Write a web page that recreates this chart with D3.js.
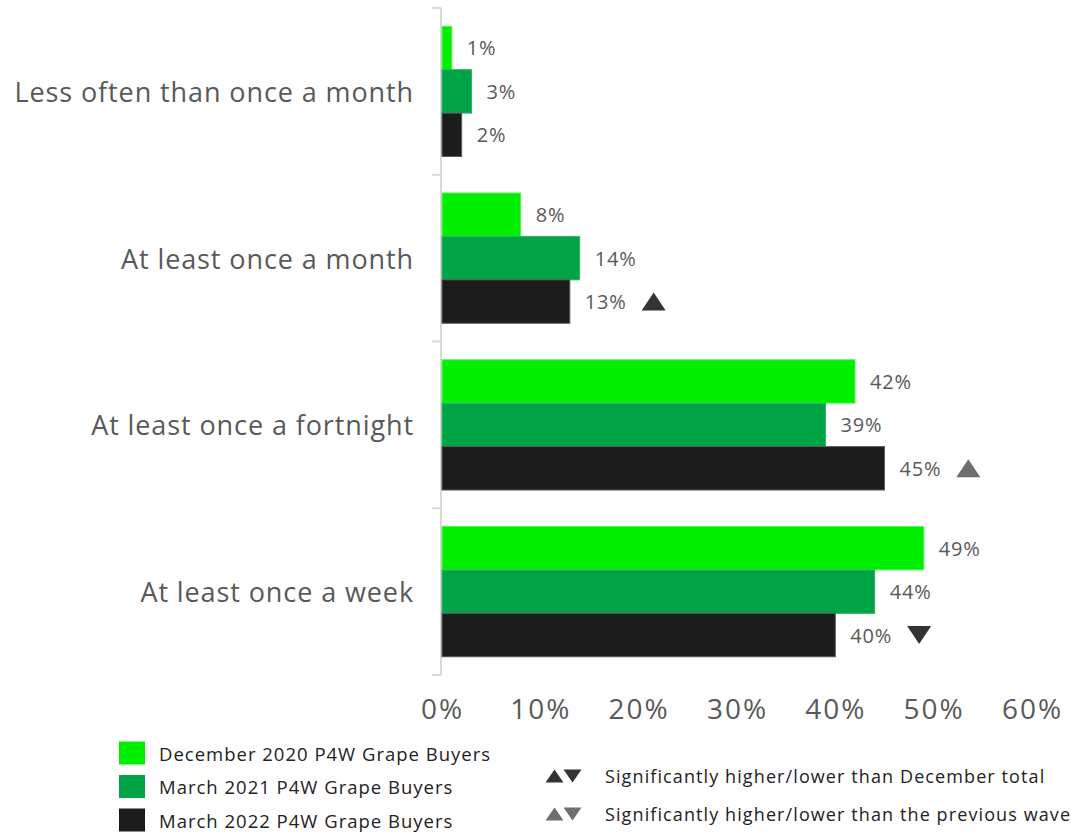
<!DOCTYPE html>
<html>
<head>
<meta charset="utf-8">
<script src="https://cdn.jsdelivr.net/npm/d3@7"></script>
<style>
  html, body { margin: 0; padding: 0; background: #fff; }
  svg text { font-family: "Open Sans", "Noto Sans", sans-serif; }
</style>
</head>
<body>
<svg id="chart" width="1071" height="832"></svg>
<script>
// Purchase frequency by wave (% of P4W grape buyers)
const categories = [
  "Less often than once a month",
  "At least once a month",
  "At least once a fortnight",
  "At least once a week"
];
const seriesNames = [
  "December 2020 P4W Grape Buyers",
  "March 2021 P4W Grape Buyers",
  "March 2022 P4W Grape Buyers"
];
const dec2020 = [1, 8, 42, 49];
const mar2021 = [3, 14, 39, 44];
const mar2022 = [2, 13, 45, 40];
// significance flags for the latest wave: direction + comparison base
const mar2022Sig = [null, "up-total", "up-wave", "down-total"];
const xTicks = [0, 10, 20, 30, 40, 50, 60];
const sigLegend = [
  { base: "total", text: "Significantly higher/lower than December total" },
  { base: "wave", text: "Significantly higher/lower than the previous wave" }
];

const seriesValues = [dec2020, mar2021, mar2022];
const colors = ["#00ee00", "#00a346", "#1c1c1c"];
const strokes = ["#5cf55c", "#2fb566", "#5a5a5a"];
const sigColors = { total: "#333333", wave: "#6e6e6e" };

const svg = d3.select("#chart");

const x = d3.scaleLinear().domain([0, 60]).range([442, 1032]);
const y = d3.scaleBand().domain(categories).range([8, 675]);
const yInner = d3.scaleBand().domain(seriesNames)
  .range([0, y.bandwidth()]).paddingOuter(0.42).paddingInner(0);

// vertical category axis with outward ticks at band edges
const axisG = svg.append("g");
axisG.append("line")
  .attr("x1", 441).attr("x2", 441)
  .attr("y1", y.range()[0]).attr("y2", y.range()[1])
  .attr("stroke", "#d9d9d9").attr("stroke-width", 2);
const edges = categories.map(c => y(c)).concat([y.range()[1]]);
axisG.selectAll("line.tick").data(edges).join("line")
  .attr("class", "tick")
  .attr("x1", 432).attr("x2", 441)
  .attr("y1", d => d).attr("y2", d => d)
  .attr("stroke", "#d9d9d9").attr("stroke-width", 2);

// category labels
svg.append("g").selectAll("text").data(categories).join("text")
  .attr("x", 414)
  .attr("y", d => y(d) + y.bandwidth() / 2)
  .attr("text-anchor", "end")
  .attr("dominant-baseline", "central")
  .attr("font-size", 27)
  .attr("letter-spacing", 0.9)
  .attr("fill", "#595959")
  .text(d => d);

// bars + value labels
const rows = [];
categories.forEach((c, i) => {
  seriesNames.forEach((s, j) => {
    rows.push({ cat: c, series: s, j, value: seriesValues[j][i],
      sig: j === 2 ? mar2022Sig[i] : null });
  });
});

const barG = svg.append("g");
barG.selectAll("rect").data(rows).join("rect")
  .attr("x", x(0))
  .attr("y", d => y(d.cat) + yInner(d.series))
  .attr("width", d => x(d.value) - x(0))
  .attr("height", yInner.bandwidth())
  .attr("fill", d => colors[d.j])
  .attr("stroke", d => strokes[d.j])
  .attr("stroke-width", 1);

const labels = barG.selectAll("text").data(rows).join("text")
  .attr("x", d => x(d.value) + 15)
  .attr("y", d => y(d.cat) + yInner(d.series) + yInner.bandwidth() / 2)
  .attr("dominant-baseline", "central")
  .attr("font-size", 20)
  .attr("letter-spacing", 0.8)
  .attr("fill", "#595959")
  .text(d => d.value + "%");

// significance triangles
function tri(cx, cy, up, w, h) {
  if (up) return `M${cx - w / 2},${cy + h / 2}L${cx + w / 2},${cy + h / 2}L${cx},${cy - h / 2}Z`;
  return `M${cx - w / 2},${cy - h / 2}L${cx + w / 2},${cy - h / 2}L${cx},${cy + h / 2}Z`;
}
labels.each(function (d) {
  if (!d.sig) return;
  const [dir, base] = d.sig.split("-");
  const endX = +this.getAttribute("x") + this.getComputedTextLength();
  const cy = y(d.cat) + yInner(d.series) + yInner.bandwidth() / 2;
  barG.append("path")
    .attr("d", tri(endX + 27, cy, dir === "up", 24, 18))
    .attr("fill", sigColors[base]);
});

// x axis tick labels
const xAxis = d3.axisBottom(x).tickValues(xTicks).tickSize(0).tickPadding(0)
  .tickFormat(d => d + "%");
const xg = svg.append("g").attr("transform", "translate(0,699)").call(xAxis);
xg.select(".domain").remove();
xg.selectAll("text")
  .attr("font-size", 28)
  .attr("letter-spacing", 2)
  .attr("font-family", "\"Open Sans\", sans-serif")
  .attr("fill", "#595959")
  .attr("dy", "0.71em")
  .attr("y", 0);

// series legend
const leg = svg.append("g");
const legY = d3.scalePoint().domain(seriesNames).range([753, 820]);
leg.selectAll("rect").data(seriesNames).join("rect")
  .attr("x", 119).attr("y", d => legY(d) - 11.5)
  .attr("width", 26).attr("height", 23)
  .attr("fill", (d, i) => colors[i]);
leg.selectAll("text").data(seriesNames).join("text")
  .attr("x", 159).attr("y", d => legY(d))
  .attr("dominant-baseline", "central")
  .attr("font-size", 18.5)
  .attr("letter-spacing", 1)
  .attr("fill", "#222")
  .text(d => d);

// significance legend
const sigY = d3.scalePoint().domain(sigLegend.map(d => d.base)).range([776, 814]);
const sl = svg.append("g");
sigLegend.forEach(d => {
  const cy = sigY(d.base);
  sl.append("path").attr("d", tri(554.5, cy, true, 18, 13)).attr("fill", sigColors[d.base]);
  sl.append("path").attr("d", tri(572.5, cy, false, 18, 13)).attr("fill", sigColors[d.base]);
  sl.append("text").attr("x", 605).attr("y", cy)
    .attr("dominant-baseline", "central")
    .attr("font-size", 18)
    .attr("letter-spacing", 1.1)
    .attr("fill", "#222")
    .text(d.text);
});
</script>
</body>
</html>
